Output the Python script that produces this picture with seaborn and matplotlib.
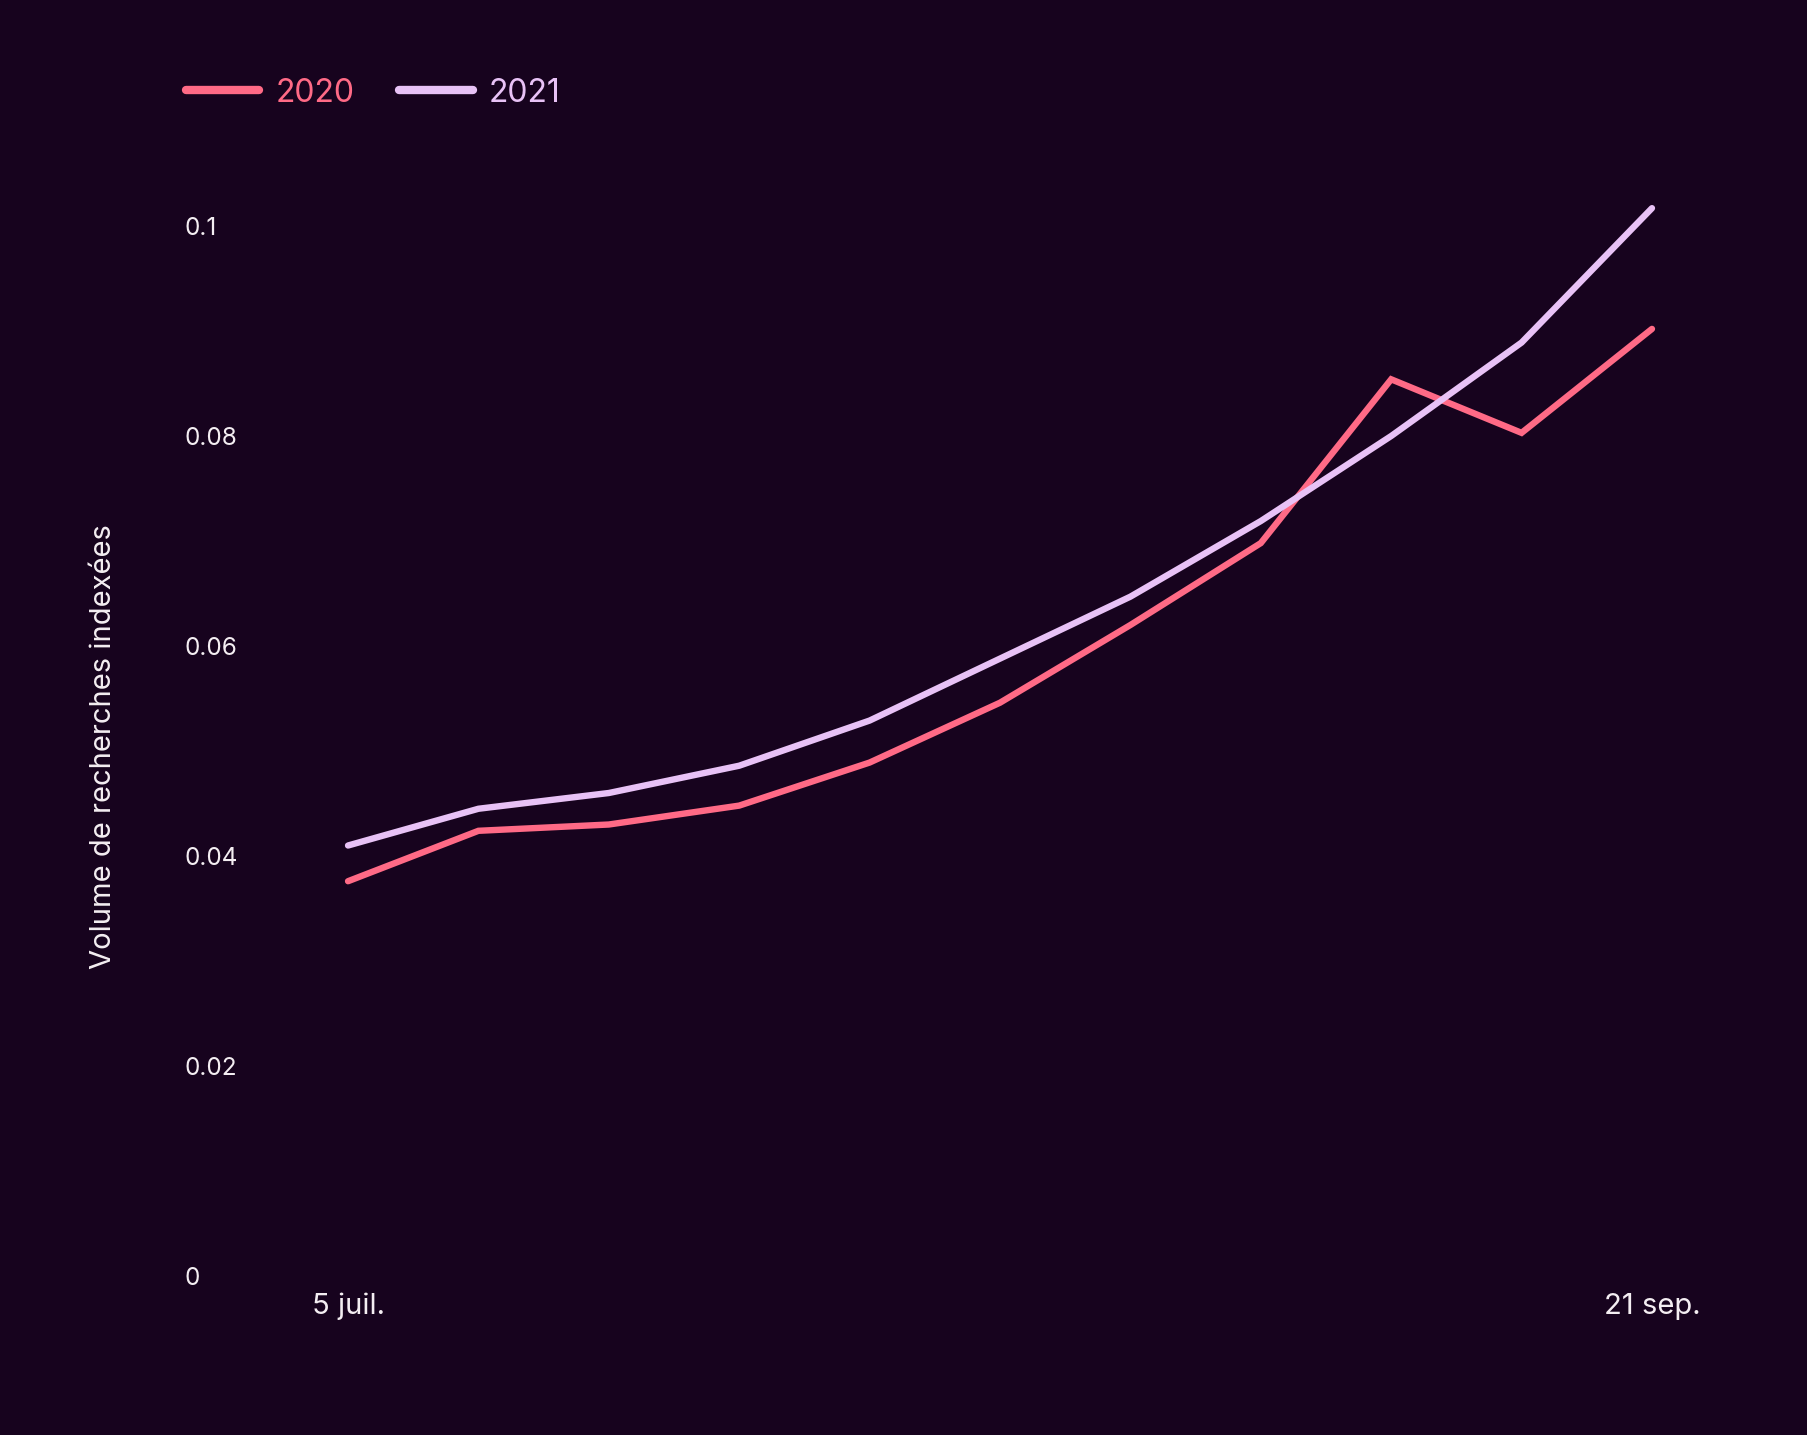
import matplotlib
matplotlib.use("Agg")
import matplotlib.pyplot as plt
from matplotlib.lines import Line2D
import pandas as pd
import seaborn as sns

# weekly points, labelled only at the two ends
weeks = list(range(11))
x_tick_pos = [0, 10]
x_tick_labels = ["5 juil.", "21 sep."]
y_ticks = [0, 0.02, 0.04, 0.06, 0.08, 0.1]
y_tick_labels = ["0", "0.02", "0.04", "0.06", "0.08", "0.1"]

vals_2020 = [0.0376, 0.0424, 0.0430, 0.0448, 0.0489, 0.0546, 0.0620, 0.0698, 0.0854, 0.0803, 0.0902]
vals_2021 = [0.0410, 0.0445, 0.0460, 0.0486, 0.0529, 0.0588, 0.0647, 0.0719, 0.0800, 0.0889, 0.1017]

BG = "#17031e"
C2020 = "#ff6a86"
C2021 = "#e8c2f6"
TXT = "#f4eef2"

df = pd.DataFrame({
    "week": weeks * 2,
    "value": vals_2020 + vals_2021,
    "year": ["2020"] * len(weeks) + ["2021"] * len(weeks),
})

sns.set_theme(style="dark", rc={"axes.facecolor": BG, "figure.facecolor": BG})
plt.rcParams["font.family"] = ["Inter", "DejaVu Sans"]

fig = plt.figure(figsize=(18.08, 14.35), dpi=100)
ax = fig.add_axes([0.1925, 0.1108, 0.7212, 0.7317])

sns.lineplot(data=df, x="week", y="value", hue="year",
             palette={"2020": C2020, "2021": C2021}, linewidth=4.6,
             legend=False, ax=ax)
for ln in ax.get_lines():
    ln.set_clip_on(False)
    ln.set_solid_capstyle("round")
    ln.set_solid_joinstyle("miter")

ax.set_xlim(0, 10)
ax.set_ylim(0, 0.1)
for s in ax.spines.values():
    s.set_visible(False)
ax.grid(False)

ax.set_xticks(x_tick_pos)
ax.set_xticklabels(x_tick_labels, fontsize=21, color=TXT)
ax.set_yticks(y_ticks)
ax.set_yticklabels(y_tick_labels, fontsize=17.5, color=TXT, ha="left")
ax.tick_params(axis="x", length=0, pad=12)
ax.tick_params(axis="y", length=0, pad=118)
ax.set_xlabel("")
ax.set_ylabel("")

fig.text(104 / 1808, 1 - 747 / 1435, "Volume de recherches indexées",
         rotation=90, ha="center", va="center", fontsize=21, color=TXT)

handles = [Line2D([], [], color=C2020, lw=6, solid_capstyle="round"),
           Line2D([], [], color=C2021, lw=6, solid_capstyle="round")]
fig.legend(handles, ["2020", "2021"], loc="center left",
           bbox_to_anchor=(186 / 1808, 1 - 93 / 1435), ncol=2, frameon=False,
           fontsize=23, labelcolor=[C2020, C2021], handlelength=2.3,
           handletextpad=0.5, columnspacing=1.4, borderpad=0, borderaxespad=0)

fig.savefig("out.png", dpi=100, facecolor=BG)
plt.close(fig)
